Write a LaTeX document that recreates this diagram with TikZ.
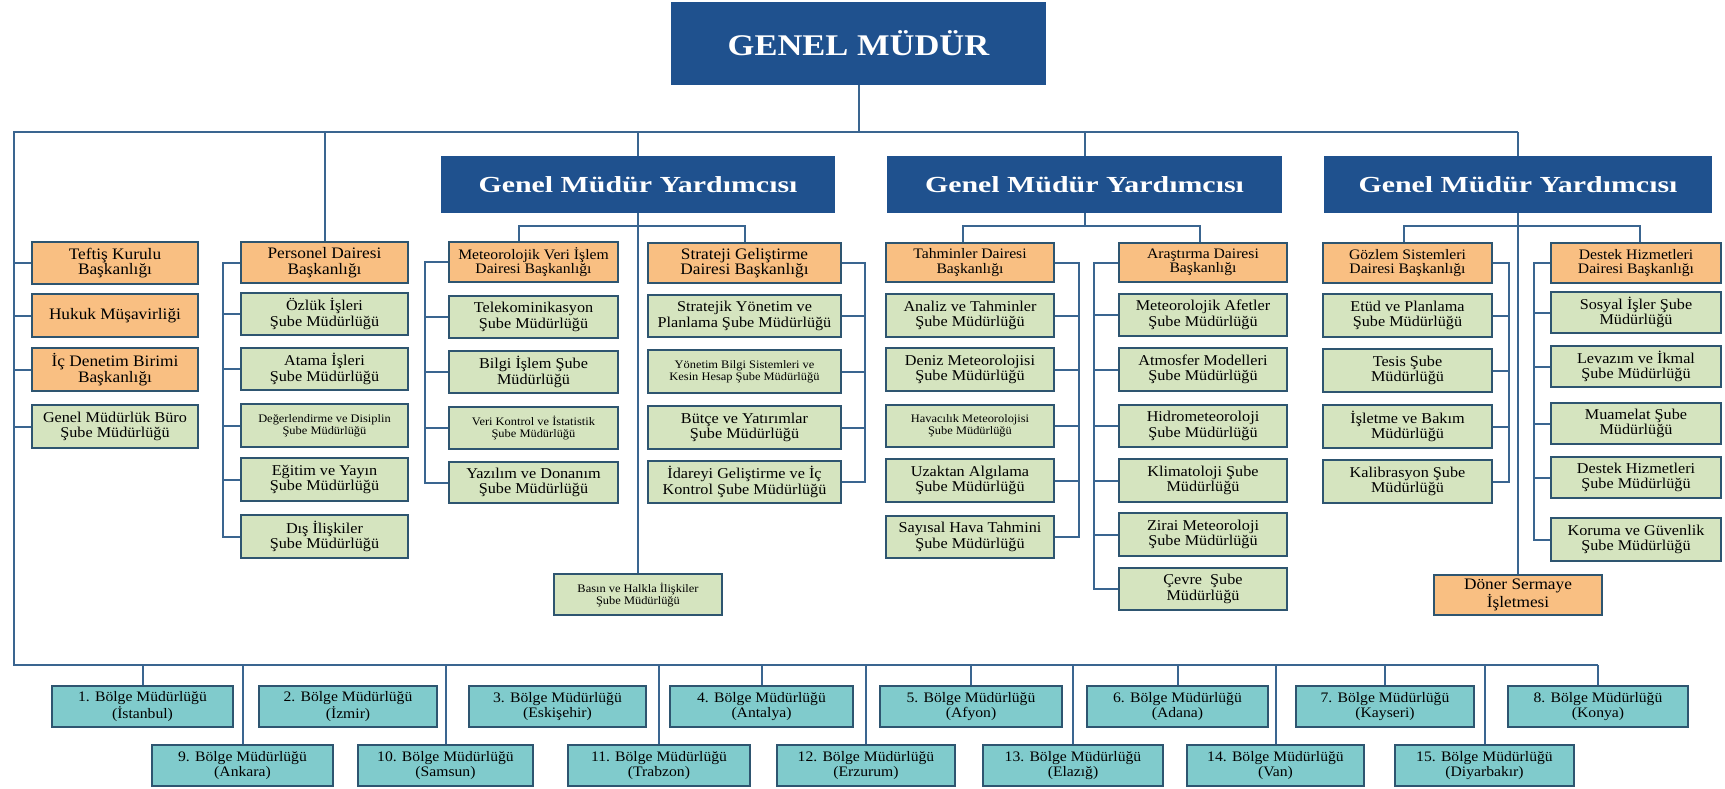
\documentclass[tikz,border=0pt]{standalone}
\usepackage{fontspec}
\setmainfont{Liberation Serif}[FakeStretch=1.08]
\newfontfamily\gmyfont{Liberation Serif}[FakeStretch=1.3]
\newfontfamily\gmfont{Liberation Serif}[FakeStretch=1.15]
\definecolor{navy}{HTML}{1F518E}
\definecolor{orng}{HTML}{F9BF82}
\definecolor{grn}{HTML}{D5E4BF}
\definecolor{tealc}{HTML}{80CBCC}
\definecolor{bordc}{HTML}{2E5570}
\definecolor{lnc}{HTML}{3A6590}
\newcommand\bx[7]{\node[#1, minimum width={(#5-#3)*1pt}, minimum height={(#6-#4)*1pt}] (#2) at ({(#3+#5)/2},{(#4+#6)/2}) {#7};}
\begin{document}
\begin{tikzpicture}[x=1pt,y=-1pt,
  basebox/.style={draw=bordc, line width=2.2pt, inner sep=0pt, align=center, text=black},
  bluebox/.style={basebox, draw=navy, fill=navy, text=white},
  orbox/.style={basebox, fill=orng, font=\fontsize{16}{15.5}\selectfont},
  orsmall/.style={basebox, fill=orng, font=\fontsize{14.5}{14.5}\selectfont},
  grbox/.style={basebox, fill=grn, font=\fontsize{15}{15.5}\selectfont},
  grsmall/.style={basebox, fill=grn, font=\fontsize{11.5}{12}\selectfont},
  rgbox/.style={basebox, fill=tealc, font=\fontsize{14.5}{15}\selectfont},
  conn/.style={draw=lnc, line width=2pt}]
\useasboundingbox[fill=white] (0,0) rectangle (1725,788);

% top level
\bx{bluebox, font=\gmfont\bfseries\fontsize{30}{32}\selectfont}{gm}{672}{3}{1045}{84}{GENEL MÜDÜR}
\bx{bluebox, font=\gmyfont\bfseries\fontsize{23}{25}\selectfont}{gmy1}{442}{157}{834}{212}{Genel Müdür Yardımcısı}
\bx{bluebox, font=\gmyfont\bfseries\fontsize{23}{25}\selectfont}{gmy2}{888}{157}{1281}{212}{Genel Müdür Yardımcısı}
\bx{bluebox, font=\gmyfont\bfseries\fontsize{23}{25}\selectfont}{gmy3}{1325}{157}{1711}{212}{Genel Müdür Yardımcısı}

% left column
\bx{orbox}{teftis}{32}{242}{198}{284}{Teftiş Kurulu\\Başkanlığı}
\bx{orbox}{hukuk}{32}{294}{198}{337}{Hukuk Müşavirliği}
\bx{orbox}{icden}{32}{348}{198}{391}{İç Denetim Birimi\\Başkanlığı}
\bx{grbox}{buro}{32}{405}{198}{448}{Genel Müdürlük Büro\\Şube Müdürlüğü}

% Personel
\bx{orbox}{pers}{241}{242}{408}{283}{Personel Dairesi\\Başkanlığı}
\bx{grbox}{ozluk}{241}{293}{408}{335}{Özlük İşleri\\Şube Müdürlüğü}
\bx{grbox}{atama}{241}{348}{408}{390}{Atama İşleri\\Şube Müdürlüğü}
\bx{grsmall}{degerl}{241}{404}{408}{447}{Değerlendirme ve Disiplin\\Şube Müdürlüğü}
\bx{grbox}{egitim}{241}{458}{408}{501}{Eğitim ve Yayın\\Şube Müdürlüğü}
\bx{grbox}{dis}{241}{515}{408}{558}{Dış İlişkiler\\Şube Müdürlüğü}

% MVI
\bx{orsmall}{mvi}{449}{242}{618}{282}{Meteorolojik Veri İşlem\\Dairesi Başkanlığı}
\bx{grbox}{tele}{449}{296}{618}{338}{Telekominikasyon\\Şube Müdürlüğü}
\bx{grbox}{bilgi}{449}{351}{618}{393}{Bilgi İşlem Şube\\Müdürlüğü}
\bx{grsmall}{veri}{449}{407}{618}{449}{Veri Kontrol ve İstatistik\\Şube Müdürlüğü}
\bx{grbox}{yaz}{449}{462}{618}{503}{Yazılım ve Donanım\\Şube Müdürlüğü}

% Strateji
\bx{orbox}{strat}{648}{243}{841}{283}{Strateji Geliştirme\\Dairesi Başkanlığı}
\bx{grbox}{styon}{648}{295}{841}{337}{Stratejik Yönetim ve\\Planlama Şube Müdürlüğü}
\bx{grsmall}{ybs}{648}{350}{841}{393}{Yönetim Bilgi Sistemleri ve\\Kesin Hesap Şube Müdürlüğü}
\bx{grbox}{butce}{648}{406}{841}{449}{Bütçe ve Yatırımlar\\Şube Müdürlüğü}
\bx{grbox}{idare}{648}{461}{841}{503}{İdareyi Geliştirme ve İç\\Kontrol Şube Müdürlüğü}

\bx{grsmall}{basin}{554}{574}{722}{615}{Basın ve Halkla İlişkiler\\Şube Müdürlüğü}

% Tahminler
\bx{orsmall}{tah}{886}{243}{1054}{282}{Tahminler Dairesi\\Başkanlığı}
\bx{grbox}{analiz}{886}{294}{1054}{337}{Analiz ve Tahminler\\Şube Müdürlüğü}
\bx{grbox}{deniz}{886}{348}{1054}{391}{Deniz Meteorolojisi\\Şube Müdürlüğü}
\bx{grsmall}{havac}{886}{405}{1054}{447}{Havacılık Meteorolojisi\\Şube Müdürlüğü}
\bx{grbox}{uzak}{886}{459}{1054}{502}{Uzaktan Algılama\\Şube Müdürlüğü}
\bx{grbox}{sayisal}{886}{516}{1054}{558}{Sayısal Hava Tahmini\\Şube Müdürlüğü}

% Arastirma
\bx{orsmall}{ara}{1119}{243}{1287}{282}{Araştırma Dairesi\\Başkanlığı}
\bx{grbox}{afet}{1119}{294}{1287}{336}{Meteorolojik Afetler\\Şube Müdürlüğü}
\bx{grbox}{atmos}{1119}{348}{1287}{391}{Atmosfer Modelleri\\Şube Müdürlüğü}
\bx{grbox}{hidro}{1119}{405}{1287}{447}{Hidrometeoroloji\\Şube Müdürlüğü}
\bx{grbox}{klima}{1119}{459}{1287}{502}{Klimatoloji Şube\\Müdürlüğü}
\bx{grbox}{zirai}{1119}{513}{1287}{556}{Zirai Meteoroloji\\Şube Müdürlüğü}
\bx{grbox}{cevre}{1119}{568}{1287}{610}{Çevre~~Şube\\Müdürlüğü}

% Gozlem
\bx{orsmall}{goz}{1323}{243}{1492}{283}{Gözlem Sistemleri\\Dairesi Başkanlığı}
\bx{grbox}{etud}{1323}{294}{1492}{337}{Etüd ve Planlama\\Şube Müdürlüğü}
\bx{grbox}{tesis}{1323}{349}{1492}{392}{Tesis Şube\\Müdürlüğü}
\bx{grbox}{islet}{1323}{405}{1492}{448}{İşletme ve Bakım\\Müdürlüğü}
\bx{grbox}{kalib}{1323}{460}{1492}{503}{Kalibrasyon Şube\\Müdürlüğü}

% Destek
\bx{orsmall}{des}{1551}{243}{1721}{283}{Destek Hizmetleri\\Dairesi Başkanlığı}
\bx{grbox}{sosyal}{1551}{292}{1721}{333}{Sosyal İşler Şube\\Müdürlüğü}
\bx{grbox}{levaz}{1551}{346}{1721}{387}{Levazım ve İkmal\\Şube Müdürlüğü}
\bx{grbox}{muam}{1551}{403}{1721}{444}{Muamelat Şube\\Müdürlüğü}
\bx{grbox}{dhs}{1551}{457}{1721}{498}{Destek Hizmetleri\\Şube Müdürlüğü}
\bx{grbox}{koruma}{1551}{518}{1721}{561}{Koruma ve Güvenlik\\Şube Müdürlüğü}

\bx{orbox}{doner}{1434}{575}{1602}{615}{Döner Sermaye\\İşletmesi}

% regions
\bx{rgbox}{r1}{52}{686}{233}{727}{1. Bölge Müdürlüğü\\(İstanbul)}
\bx{rgbox}{r2}{259}{686}{437}{727}{2. Bölge Müdürlüğü\\(İzmir)}
\bx{rgbox}{r3}{469}{686}{646}{727}{3. Bölge Müdürlüğü\\(Eskişehir)}
\bx{rgbox}{r4}{670}{686}{853}{727}{4. Bölge Müdürlüğü\\(Antalya)}
\bx{rgbox}{r5}{880}{686}{1062}{727}{5. Bölge Müdürlüğü\\(Afyon)}
\bx{rgbox}{r6}{1087}{686}{1268}{727}{6. Bölge Müdürlüğü\\(Adana)}
\bx{rgbox}{r7}{1296}{686}{1474}{727}{7. Bölge Müdürlüğü\\(Kayseri)}
\bx{rgbox}{r8}{1508}{686}{1688}{727}{8. Bölge Müdürlüğü\\(Konya)}
\bx{rgbox}{r9}{152}{745}{333}{786}{9. Bölge Müdürlüğü\\(Ankara)}
\bx{rgbox}{r10}{358}{745}{533}{786}{10. Bölge Müdürlüğü\\(Samsun)}
\bx{rgbox}{r11}{568}{745}{750}{786}{11. Bölge Müdürlüğü\\(Trabzon)}
\bx{rgbox}{r12}{777}{745}{955}{786}{12. Bölge Müdürlüğü\\(Erzurum)}
\bx{rgbox}{r13}{983}{745}{1163}{786}{13. Bölge Müdürlüğü\\(Elazığ)}
\bx{rgbox}{r14}{1187}{745}{1364}{786}{14. Bölge Müdürlüğü\\(Van)}
\bx{rgbox}{r15}{1395}{745}{1574}{786}{15. Bölge Müdürlüğü\\(Diyarbakır)}

% connectors
\coordinate (busL) at (14,132);
\coordinate (botL) at (14,665);
\coordinate (bb) at (0,226);
\coordinate (busR) at (gmy3.north |- busL);
\coordinate (botR) at (r8.north |- botL);
\draw[conn] (gm.south) -- (gm.south |- busL);
\draw[conn] (busR) -- (busL) -- (botL) -- (botR);
\draw[conn] (pers.north |- busL) -- (pers.north);
\draw[conn] (gmy1.north |- busL) -- (gmy1.north);
\draw[conn] (gmy2.north |- busL) -- (gmy2.north);
\draw[conn] (busR) -- (gmy3.north);

\foreach \n in {teftis,hukuk,icden,buro} \draw[conn] (\n.west) -- (\n.west -| busL);

\coordinate (ps) at (223,0);
\draw[conn] (pers.west) -| (ps |- dis.west) -- (dis.west);
\foreach \n in {ozluk,atama,degerl,egitim} \draw[conn] (\n.west) -- (\n.west -| ps);

\draw[conn] (gmy1.south) -- (gmy1.south |- basin.north);
\draw[conn] ([xshift=-15pt]mvi.north) |- (strat.north |- bb) -- (strat.north);
\coordinate (ms) at (425,0);
\draw[conn] (mvi.west) -| (ms |- yaz.west) -- (yaz.west);
\foreach \n in {tele,bilgi,veri} \draw[conn] (\n.west) -- (\n.west -| ms);
\coordinate (ss) at (865,0);
\draw[conn] (strat.east) -| (ss |- idare.east) -- (idare.east);
\foreach \n in {styon,ybs,butce} \draw[conn] (\n.east) -- (\n.east -| ss);

\draw[conn] (gmy2.south) -- (gmy2.south |- bb);
\draw[conn] ([xshift=-7pt]tah.north) |- ([xshift=-3pt]ara.north |- bb) -- ([xshift=-3pt]ara.north);
\coordinate (ts) at (1079,0);
\draw[conn] (tah.east) -| (ts |- sayisal.east) -- (sayisal.east);
\foreach \n in {analiz,deniz,havac,uzak} \draw[conn] (\n.east) -- (\n.east -| ts);
\coordinate (as) at (1094,0);
\draw[conn] (ara.west) -| (as |- cevre.west) -- (cevre.west);
\foreach \n in {afet,atmos,hidro,klima,zirai} \draw[conn] (\n.west) -- (\n.west -| as);

\draw[conn] (gmy3.south) -- (gmy3.south |- doner.north);
\draw[conn] ([xshift=-4pt]goz.north) |- ([xshift=4pt]des.north |- bb) -- ([xshift=4pt]des.north);
\coordinate (gs) at (1509,0);
\draw[conn] (goz.east) -| (gs |- kalib.east) -- (kalib.east);
\foreach \n in {etud,tesis,islet} \draw[conn] (\n.east) -- (\n.east -| gs);
\coordinate (ds) at (1534,0);
\draw[conn] (des.west) -| (ds |- koruma.west) -- (koruma.west);
\foreach \n in {sosyal,levaz,muam,dhs} \draw[conn] (\n.west) -- (\n.west -| ds);

\foreach \n in {r1,r4,r5,r6,r7,r8,r9,r10,r11,r12,r13,r14,r15} \draw[conn] (\n.north) -- (\n.north |- botL);
\end{tikzpicture}
\end{document}
